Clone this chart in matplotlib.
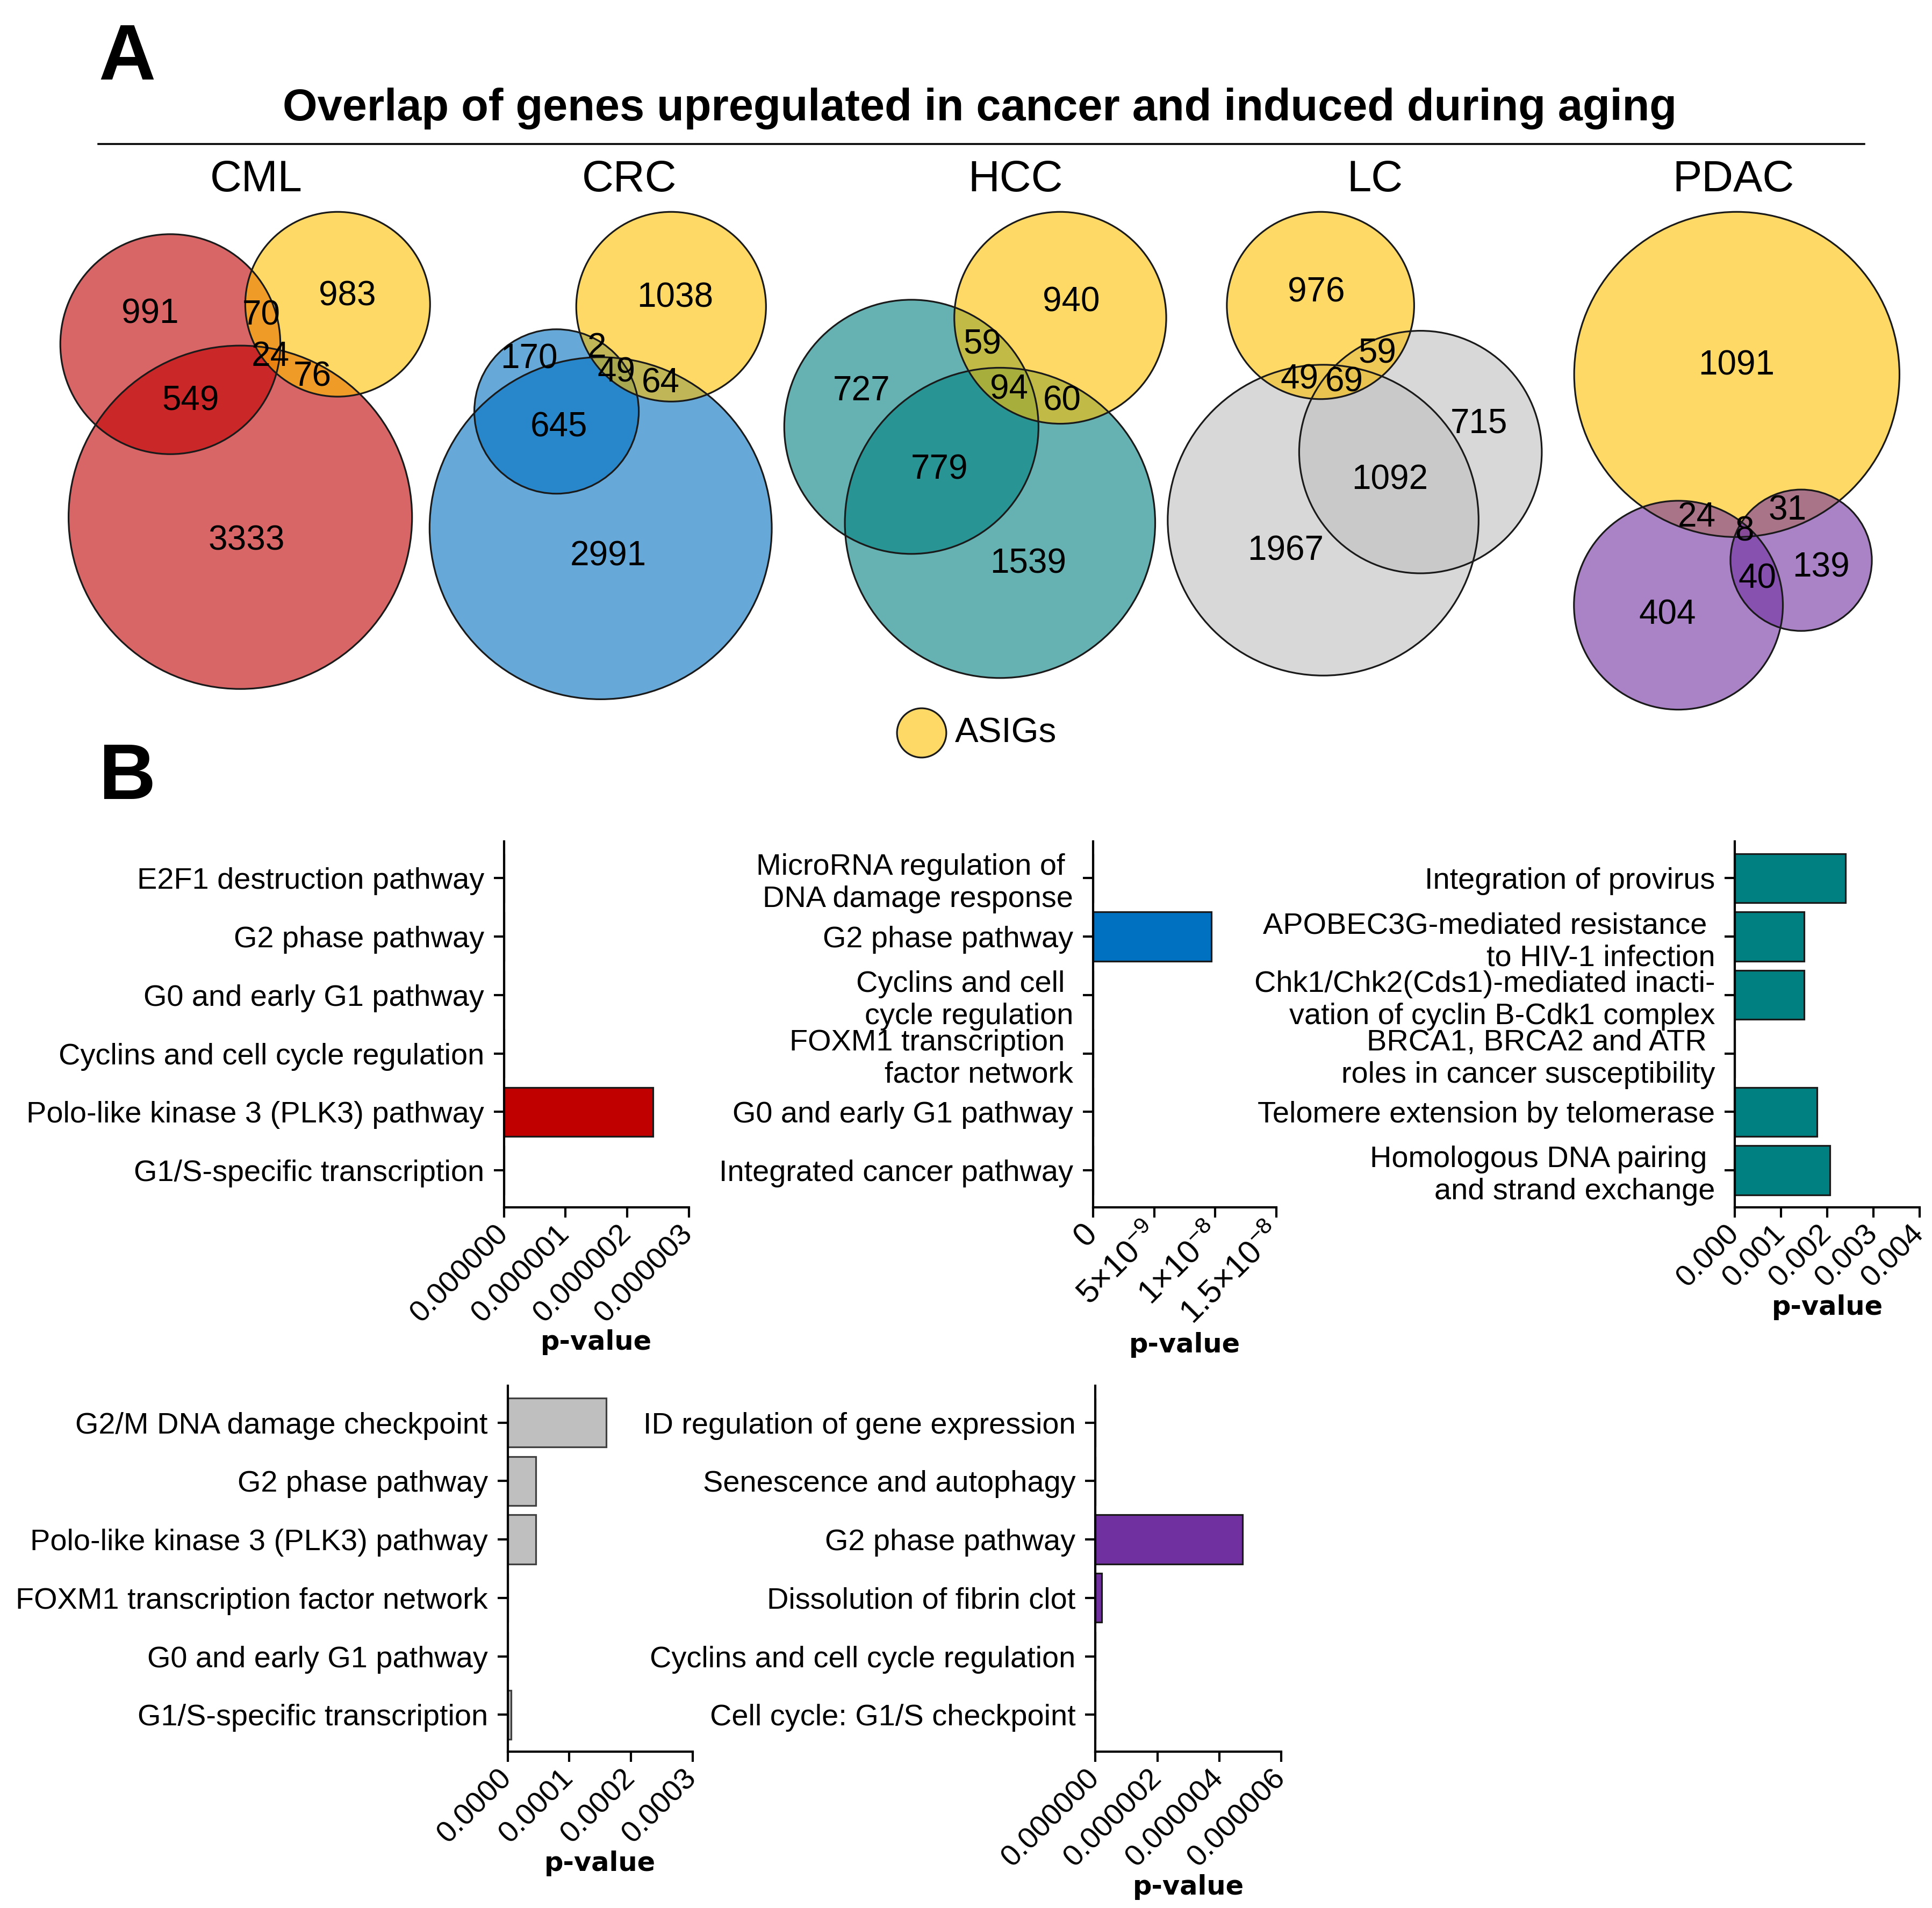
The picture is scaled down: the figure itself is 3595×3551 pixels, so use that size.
import numpy as np
import matplotlib
matplotlib.use("Agg")
import matplotlib.pyplot as plt
from matplotlib.patches import Circle

plt.rcParams['font.family'] = ['Liberation Sans', 'DejaVu Sans']
plt.rcParams['mathtext.fontset'] = 'custom'
plt.rcParams['mathtext.rm'] = 'Liberation Sans'
plt.rcParams['mathtext.it'] = 'Liberation Sans:italic'

# ---------------- data ----------------
# Venn region counts, order: 100, 010, 001, 110, 101, 011, 111
venn_names = ["CML", "CRC", "HCC", "LC", "PDAC"]
cml_counts = [3333, 991, 983, 549, 76, 70, 24]
crc_counts = [2991, 170, 1038, 645, 64, 2, 49]
hcc_counts = [1539, 727, 940, 779, 60, 59, 94]
lc_counts = [1967, 715, 976, 1092, 49, 59, 69]
pdac_counts = [1091, 404, 139, 24, 31, 40, 8]
venn_counts = [cml_counts, crc_counts, hcc_counts, lc_counts, pdac_counts]

cml_terms = ["E2F1 destruction pathway", "G2 phase pathway", "G0 and early G1 pathway",
             "Cyclins and cell cycle regulation", "Polo-like kinase 3 (PLK3) pathway",
             "G1/S-specific transcription"]
cml_p = [0, 0, 0, 0, 2.42e-6, 0]

crc_terms = ["MicroRNA regulation of \nDNA damage response", "G2 phase pathway",
             "Cyclins and cell \ncycle regulation", "FOXM1 transcription \nfactor network",
             "G0 and early G1 pathway", "Integrated cancer pathway"]
crc_p = [0, 9.66e-9, 0, 0, 0, 0]

hcc_terms = ["Integration of provirus", "APOBEC3G-mediated resistance \nto HIV-1 infection",
             "Chk1/Chk2(Cds1)-mediated inacti-\nvation of cyclin B-Cdk1 complex",
             "BRCA1, BRCA2 and ATR \nroles in cancer susceptibility",
             "Telomere extension by telomerase", "Homologous DNA pairing \nand strand exchange"]
hcc_p = [0.00239, 0.00150, 0.00150, 0, 0.00178, 0.00206]

lc_terms = ["G2/M DNA damage checkpoint", "G2 phase pathway", "Polo-like kinase 3 (PLK3) pathway",
            "FOXM1 transcription factor network", "G0 and early G1 pathway",
            "G1/S-specific transcription"]
lc_p = [1.6e-4, 4.6e-5, 4.6e-5, 0, 0, 6e-6]

pdac_terms = ["ID regulation of gene expression", "Senescence and autophagy", "G2 phase pathway",
              "Dissolution of fibrin clot", "Cyclins and cell cycle regulation",
              "Cell cycle: G1/S checkpoint"]
pdac_p = [0, 0, 4.75e-6, 2.1e-7, 0, 0]

# ---------------- layout ----------------
W, H = 1568.0, 1549.0          # reference layout units (pixels at 1/2.29 scale)
DPI = 230
fig = plt.figure(figsize=(3595 / DPI, 3551 / DPI), dpi=DPI)

RED, YEL, BLUE, TEAL, GREY, PURP = "#C00000", "#FFC000", "#0070C0", "#008080", "#BFBFBF", "#7030A0"
venn_colors = [[RED, RED, YEL], [BLUE, BLUE, YEL], [TEAL, TEAL, YEL], [GREY, GREY, YEL], [YEL, PURP, PURP]]
venn_theta = [112, 110.7, 132.7, 35, -104.2]   # direction circle0 -> circle1
venn_side = [-1, -1, -1, 1, 1]                 # side of circle2
asig_r_px = [75, 77, 86, 76, 132]
asig_index = [2, 2, 2, 2, 0]
venn_cx = [199, 487.5, 791.5, 1099.5, 1409.5]
venn_top = 172
name_x = [208, 511, 824, 1116, 1407]

codes = [(1, 0, 0), (0, 1, 0), (0, 0, 1), (1, 1, 0), (1, 0, 1), (0, 1, 1), (1, 1, 1)]


def lens_area(r1, r2, d):
    if d >= r1 + r2:
        return 0.0
    if d <= abs(r1 - r2):
        return np.pi * min(r1, r2) ** 2
    a1 = r1 ** 2 * np.arccos((d * d + r1 * r1 - r2 * r2) / (2 * d * r1))
    a2 = r2 ** 2 * np.arccos((d * d + r2 * r2 - r1 * r1) / (2 * d * r2))
    k = 0.5 * np.sqrt((-d + r1 + r2) * (d + r1 - r2) * (d - r1 + r2) * (d + r1 + r2))
    return a1 + a2 - k


def solve_dist(r1, r2, target):
    lo, hi = abs(r1 - r2) + 1e-9, r1 + r2
    for _ in range(80):
        mid = 0.5 * (lo + hi)
        if lens_area(r1, r2, mid) > target:
            lo = mid
        else:
            hi = mid
    return 0.5 * (lo + hi)


def venn_geometry(counts, theta, side):
    tot = [sum(n for c, n in zip(codes, counts) if c[i]) for i in range(3)]
    pair = {}
    for i, j in [(0, 1), (0, 2), (1, 2)]:
        pair[(i, j)] = sum(n for c, n in zip(codes, counts) if c[i] and c[j])
    r = [np.sqrt(t / np.pi) for t in tot]
    d01 = solve_dist(r[0], r[1], pair[(0, 1)])
    d02 = solve_dist(r[0], r[2], pair[(0, 2)])
    d12 = solve_dist(r[1], r[2], pair[(1, 2)])
    th = np.radians(theta)
    cosphi = np.clip((d01 ** 2 + d02 ** 2 - d12 ** 2) / (2 * d01 * d02), -1, 1)
    phi = np.arccos(cosphi)
    cen = [np.array([0.0, 0.0]),
           d01 * np.array([np.cos(th), np.sin(th)]),
           d02 * np.array([np.cos(th + side * phi), np.sin(th + side * phi)])]
    return cen, r


ax0 = fig.add_axes([0, 0, 1, 1])
ax0.set_xlim(0, W)
ax0.set_ylim(H, 0)
ax0.axis("off")

for v in range(5):
    cen, r = venn_geometry(venn_counts[v], venn_theta[v], venn_side[v])
    k = asig_r_px[v] / r[asig_index[v]]
    px = [np.array([c[0] * k, -c[1] * k]) for c in cen]
    pr = [rr * k for rr in r]
    xmin = min(p[0] - q for p, q in zip(px, pr))
    xmax = max(p[0] + q for p, q in zip(px, pr))
    ymin = min(p[1] - q for p, q in zip(px, pr))
    shift = np.array([venn_cx[v] - 0.5 * (xmin + xmax), venn_top - ymin])
    px = [p + shift for p in px]
    for i in range(3):
        ax0.add_patch(Circle(px[i], pr[i], facecolor=venn_colors[v][i], alpha=0.6,
                             edgecolor="none", zorder=2))
    for i in range(3):
        ax0.add_patch(Circle(px[i], pr[i], facecolor="none", edgecolor="#1a1a1a",
                             linewidth=1.0, zorder=3))
    # label positions: region centroid, or the most inner point when the centroid falls badly
    gx = np.arange(min(p[0] - q for p, q in zip(px, pr)), max(p[0] + q for p, q in zip(px, pr)), 1.0)
    gy = np.arange(min(p[1] - q for p, q in zip(px, pr)), max(p[1] + q for p, q in zip(px, pr)), 1.0)
    XX, YY = np.meshgrid(gx, gy)
    sd = [pr[i] - np.hypot(XX - px[i][0], YY - px[i][1]) for i in range(3)]
    for code, n in zip(codes, venn_counts[v]):
        score = np.minimum.reduce([sd[i] if code[i] else -sd[i] for i in range(3)])
        idx = np.unravel_index(np.argmax(score), score.shape)
        lx, ly = XX[idx], YY[idx]
        best = score[idx]
        inside = score > 0
        if best > 0:
            mx, my = XX[inside].mean(), YY[inside].mean()
            j = (int(round(my - gy[0])), int(round(mx - gx[0])))
            if 0 <= j[0] < score.shape[0] and 0 <= j[1] < score.shape[1] and score[j] > 0.4 * best:
                lx, ly = mx, my
        ax0.text(lx, ly, str(n), fontsize=20, ha="center", va="center", zorder=4)
    ax0.text(name_x[v], 146, venn_names[v], fontsize=25.5, ha="center", va="center")

ax0.text(80, 48, "A", fontsize=46, fontweight="bold", ha="left", va="center")
ax0.text(80, 632, "B", fontsize=46, fontweight="bold", ha="left", va="center")
ax0.text(795, 88, "Overlap of genes upregulated in cancer and induced during aging",
         fontsize=26, fontweight="bold", ha="center", va="center")
ax0.plot([80, 1513], [117, 117], color="black", linewidth=1.1)
ax0.add_patch(Circle((748, 595), 20, facecolor=YEL, alpha=0.6, edgecolor="none"))
ax0.add_patch(Circle((748, 595), 20, facecolor="none", edgecolor="#1a1a1a", linewidth=1.0))
ax0.text(775, 595, "ASIGs", fontsize=20.5, ha="left", va="center")


def bar_panel(rect, terms, vals, color, edge, xmax, ticks, ticklabels, tick_fs=17.5):
    l, r, t, b = rect
    ax = fig.add_axes([l / W, 1 - b / H, (r - l) / W, (b - t) / H])
    y = np.arange(len(terms))
    ax.barh(y, vals, height=0.84, color=color, edgecolor=edge, linewidth=1.0, zorder=3)
    ax.set_ylim(len(terms) - 1 + 0.63, -0.63)
    ax.set_xlim(0, xmax)
    ax.set_yticks(y)
    ax.set_yticklabels(terms, fontsize=17.5)
    ax.set_xticks(ticks)
    ax.set_xticklabels(ticklabels, rotation=45, ha="right", va="center",
                       rotation_mode="anchor", fontsize=tick_fs)
    for s in ["top", "right"]:
        ax.spines[s].set_visible(False)
    for s in ["left", "bottom"]:
        ax.spines[s].set_linewidth(1.3)
        ax.spines[s].set_zorder(4)
    ax.tick_params(axis="both", length=6, width=1.3, direction="out", color="black")
    ax.tick_params(axis="y", pad=5.5)
    ax.tick_params(axis="x", pad=7)
    ax.set_facecolor("none")
    ax.set_xlabel("p-value", fontsize=15.5, fontweight="bold", family="DejaVu Sans", labelpad=1)
    return ax


bar_panel((409, 559, 683, 980), cml_terms, cml_p, RED, "#1a1a1a", 3e-6,
          [0, 1e-6, 2e-6, 3e-6], ["0.000000", "0.000001", "0.000002", "0.000003"])
bar_panel((887, 1036, 683, 980), crc_terms, crc_p, BLUE, "#1a1a1a", 1.5e-8,
          [0, 5e-9, 1e-8, 1.5e-8],
          ["0", r"$\mathregular{5{\times}10^{-9}}$", r"$\mathregular{1{\times}10^{-8}}$",
           r"$\mathregular{1.5{\times}10^{-8}}$"], tick_fs=19)
bar_panel((1408, 1558, 683, 980), hcc_terms, hcc_p, TEAL, "#1a1a1a", 0.004,
          [0, 0.001, 0.002, 0.003, 0.004], ["0.000", "0.001", "0.002", "0.003", "0.004"])
bar_panel((412, 562, 1125, 1422), lc_terms, lc_p, GREY, "#404040", 3e-4,
          [0, 1e-4, 2e-4, 3e-4], ["0.0000", "0.0001", "0.0002", "0.0003"])
bar_panel((889, 1040, 1125, 1422), pdac_terms, pdac_p, PURP, "#1a1a1a", 6e-6,
          [0, 2e-6, 4e-6, 6e-6], ["0.000000", "0.000002", "0.000004", "0.000006"])

fig.savefig("out.png", dpi=DPI, facecolor="white")
